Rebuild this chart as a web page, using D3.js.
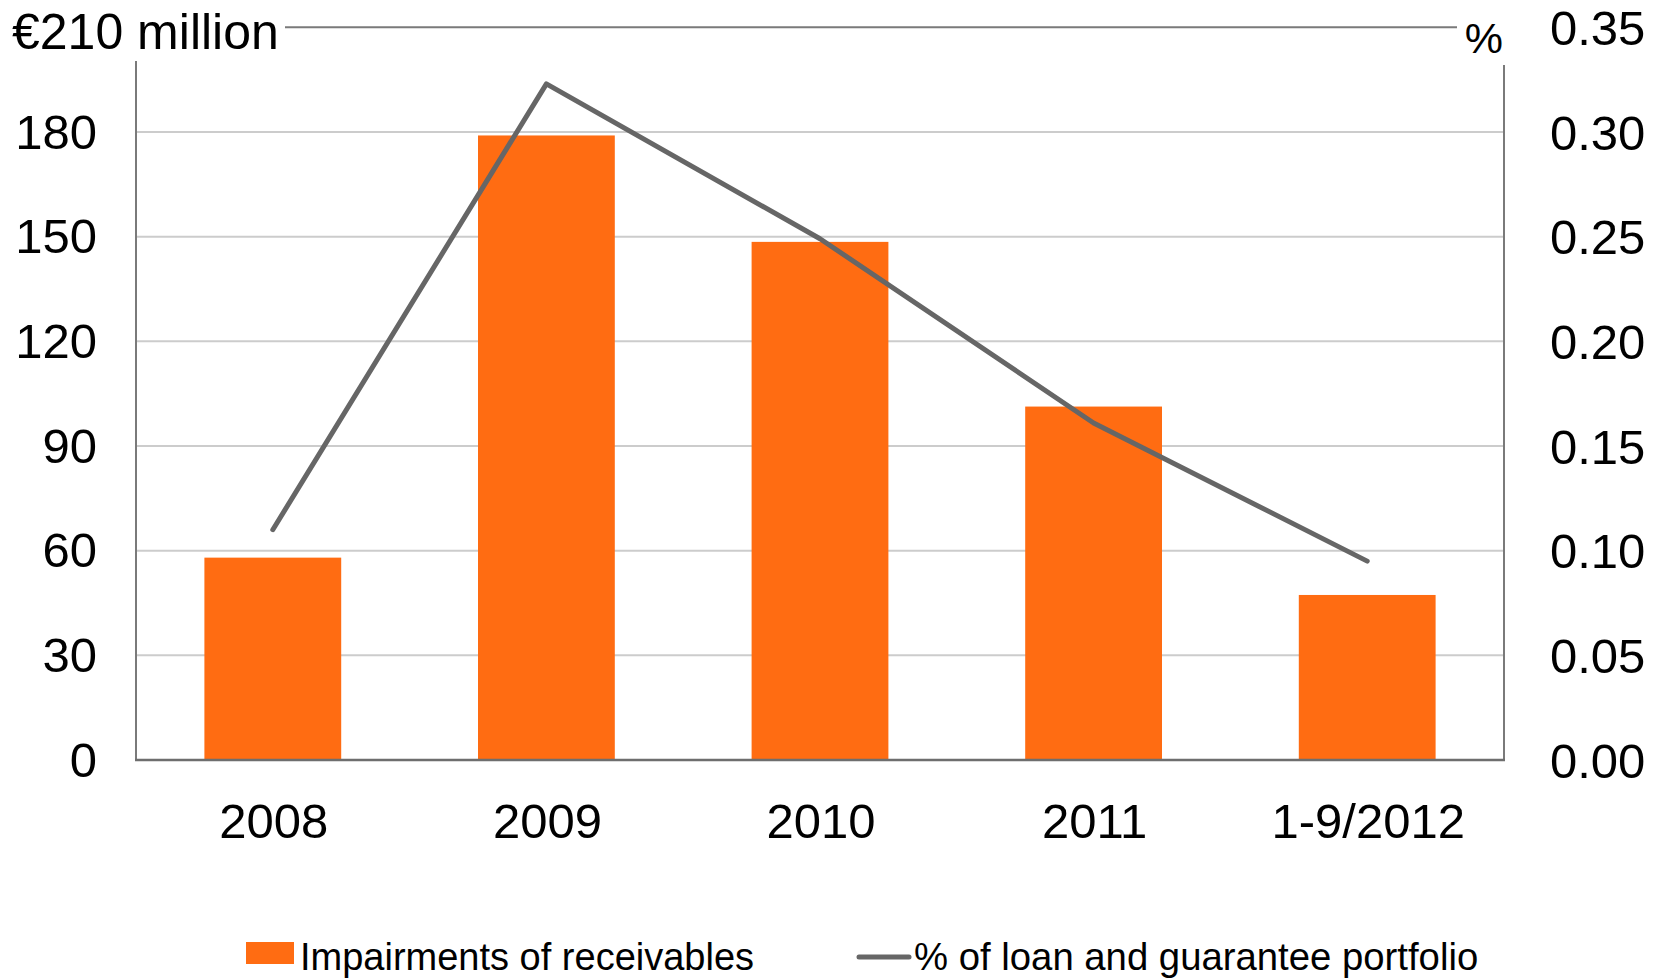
<!DOCTYPE html>
<html>
<head>
<meta charset="utf-8">
<script src="https://cdn.jsdelivr.net/npm/d3@7"></script>
<style>
  html, body { margin: 0; padding: 0; background: #fff; }
  svg { display: block; }
  text { font-family: "Liberation Sans", Arial, sans-serif; fill: #000; }
</style>
</head>
<body>
<svg id="chart" width="1663" height="980"></svg>
<script>
const categories = ["2008", "2009", "2010", "2011", "1-9/2012"];
const impairments = [58, 179, 148.5, 101.3, 47.3];
const pctPortfolio = [0.11, 0.323, 0.249, 0.161, 0.095];
const leftTicks = [0, 30, 60, 90, 120, 150, 180, 210];
const rightTicks = [0, 0.05, 0.10, 0.15, 0.20, 0.25, 0.30, 0.35];
const leftUnitLabel = "€210 million";
const rightUnitLabel = "%";
const seriesNames = ["Impairments of receivables", "% of loan and guarantee portfolio"];

const svg = d3.select("#chart");
const plot = { left: 136, right: 1504, top: 27.3, bottom: 760 };
const fontSize = 49;

const x = d3.scaleBand().domain(categories).range([plot.left, plot.right])
  .paddingInner(0.5).paddingOuter(0.25);
const yL = d3.scaleLinear().domain([0, 210]).range([plot.bottom, plot.top]);
const yR = d3.scaleLinear().domain([0, 0.35]).range([plot.bottom, plot.top]);

// gridlines (skip 0 and top)
svg.append("g").selectAll("line")
  .data(leftTicks.filter(d => d > 0 && d < 210))
  .join("line")
  .attr("x1", plot.left).attr("x2", plot.right)
  .attr("y1", d => yL(d)).attr("y2", d => yL(d))
  .attr("stroke", "#cccccc").attr("stroke-width", 2);

// top line (between unit labels)
svg.append("line")
  .attr("x1", 285).attr("x2", 1457)
  .attr("y1", yL(210)).attr("y2", yL(210))
  .attr("stroke", "#7a7a7a").attr("stroke-width", 2);

// bars
svg.append("g").selectAll("rect")
  .data(impairments)
  .join("rect")
  .attr("x", (d, i) => x(categories[i]))
  .attr("width", x.bandwidth())
  .attr("y", d => yL(d))
  .attr("height", d => yL(0) - yL(d))
  .attr("fill", "#ff6c12");

// axes lines
svg.append("line").attr("x1", plot.left).attr("x2", plot.left)
  .attr("y1", 61).attr("y2", plot.bottom + 1)
  .attr("stroke", "#7a7a7a").attr("stroke-width", 2);
svg.append("line").attr("x1", plot.right).attr("x2", plot.right)
  .attr("y1", 65).attr("y2", plot.bottom + 1)
  .attr("stroke", "#7a7a7a").attr("stroke-width", 2);
svg.append("line").attr("x1", plot.left - 1).attr("x2", plot.right + 1)
  .attr("y1", plot.bottom).attr("y2", plot.bottom)
  .attr("stroke", "#6e6e6e").attr("stroke-width", 2.5);

// line series
const line = d3.line()
  .x((d, i) => x(categories[i]) + x.bandwidth() / 2)
  .y(d => yR(d));
svg.append("path")
  .datum(pctPortfolio)
  .attr("d", line)
  .attr("fill", "none")
  .attr("stroke", "#666666")
  .attr("stroke-width", 5)
  .attr("stroke-linecap", "round")
  .attr("stroke-linejoin", "round");

// left tick labels
svg.append("g").selectAll("text")
  .data(leftTicks.filter(d => d < 210))
  .join("text")
  .attr("x", 97)
  .attr("y", d => yL(d))
  .attr("dy", "0.34em")
  .attr("text-anchor", "end")
  .style("font-size", fontSize + "px")
  .text(d => d3.format("d")(d));

// right tick labels
svg.append("g").selectAll("text")
  .data(rightTicks)
  .join("text")
  .attr("x", 1550)
  .attr("y", d => yR(d))
  .attr("dy", "0.36em")
  .attr("text-anchor", "start")
  .style("font-size", fontSize + "px")
  .text(d => d3.format(".2f")(d));

// unit labels
svg.append("text").attr("x", 12).attr("y", 49)
  .style("font-size", "50px").text(leftUnitLabel);
svg.append("text").attr("x", 1503).attr("y", 53)
  .attr("text-anchor", "end")
  .style("font-size", "43px").text(rightUnitLabel);

// x labels
svg.append("g").selectAll("text")
  .data(categories)
  .join("text")
  .attr("x", d => x(d) + x.bandwidth() / 2 + 1)
  .attr("y", 838)
  .attr("text-anchor", "middle")
  .style("font-size", fontSize + "px")
  .text(d => d);

// legend
const lg = svg.append("g");
lg.append("rect").attr("x", 246).attr("y", 942).attr("width", 48).attr("height", 22)
  .attr("fill", "#ff6c12");
lg.append("text").attr("x", 300).attr("y", 970)
  .style("font-size", "38px").text(seriesNames[0]);
lg.append("line").attr("x1", 859).attr("x2", 909).attr("y1", 957).attr("y2", 957)
  .attr("stroke", "#666666").attr("stroke-width", 5).attr("stroke-linecap", "round");
lg.append("text").attr("x", 914).attr("y", 970)
  .style("font-size", "38.3px").text(seriesNames[1]);
</script>
</body>
</html>
